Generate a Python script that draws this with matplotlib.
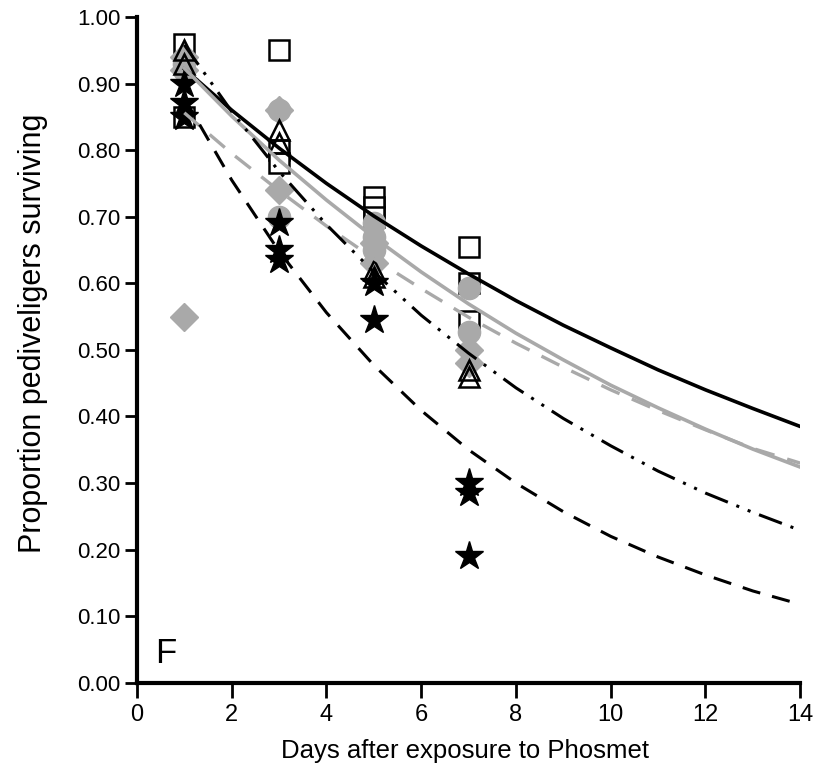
import matplotlib
matplotlib.use("Agg")
import matplotlib.pyplot as plt

plt.rcParams['font.family'] = ['Liberation Sans', 'DejaVu Sans']

# ---- data ----
curve_days = [1, 2, 3, 4, 5, 6, 7, 8, 9, 10, 11, 12, 13, 14]
fit_black_solid = [0.922, 0.860, 0.803, 0.750, 0.701, 0.656, 0.614, 0.574, 0.537, 0.503, 0.470, 0.440, 0.412, 0.385]
fit_gray_solid = [0.923, 0.851, 0.785, 0.725, 0.669, 0.617, 0.569, 0.525, 0.485, 0.447, 0.413, 0.381, 0.351, 0.324]
fit_gray_dashed = [0.856, 0.795, 0.739, 0.686, 0.637, 0.592, 0.549, 0.510, 0.474, 0.440, 0.409, 0.380, 0.352, 0.330]
fit_dashdot = [0.958, 0.858, 0.768, 0.688, 0.617, 0.552, 0.495, 0.443, 0.397, 0.356, 0.318, 0.285, 0.256, 0.229]
fit_black_dashed = [0.878, 0.755, 0.648, 0.556, 0.477, 0.409, 0.350, 0.300, 0.257, 0.220, 0.189, 0.162, 0.138, 0.118]

sq_x = [1, 1, 3, 3, 3, 5, 5, 5, 7, 7, 7]
sq_y = [0.96, 0.85, 0.95, 0.80, 0.78, 0.73, 0.715, 0.70, 0.655, 0.60, 0.544]

circ_x = [1, 1, 3, 3, 5, 5, 5, 7, 7]
circ_y = [0.93, 0.92, 0.86, 0.70, 0.69, 0.67, 0.65, 0.593, 0.527]

diam_x = [1, 1, 1, 3, 3, 5, 5, 7, 7]
diam_y = [0.94, 0.92, 0.55, 0.86, 0.74, 0.66, 0.63, 0.50, 0.48]

tri_x = [1, 1, 3, 3, 5, 5, 7, 7]
tri_y = [0.95, 0.93, 0.83, 0.81, 0.62, 0.61, 0.47, 0.46]

star_x = [1, 1, 1, 3, 3, 3, 5, 5, 7, 7, 7]
star_y = [0.90, 0.87, 0.85, 0.69, 0.65, 0.635, 0.60, 0.545, 0.30, 0.285, 0.19]

xticks = [0, 2, 4, 6, 8, 10, 12, 14]
yticks = [0.0, 0.1, 0.2, 0.3, 0.4, 0.5, 0.6, 0.7, 0.8, 0.9, 1.0]

GRAY = '#a9a9a9'

fig = plt.figure(figsize=(8.25, 7.69), dpi=100)
ax = fig.add_axes([0.166, 0.112, 0.804, 0.866])

ax.plot(sq_x, sq_y, linestyle='none', marker='s', markersize=14.5, markerfacecolor='white',
        markeredgecolor='black', markeredgewidth=1.8, zorder=3)
ax.plot(circ_x, circ_y, linestyle='none', marker='o', markersize=16, markerfacecolor=GRAY,
        markeredgecolor=GRAY, zorder=3.2)
ax.plot(diam_x, diam_y, linestyle='none', marker='D', markersize=14, markerfacecolor=GRAY,
        markeredgecolor=GRAY, zorder=3.3)
ax.plot(tri_x, tri_y, linestyle='none', marker='^', markersize=14, markerfacecolor='none',
        markeredgecolor='black', markeredgewidth=1.8, zorder=3.4)
ax.plot(star_x, star_y, linestyle='none', marker='*', markersize=21, markerfacecolor='black',
        markeredgecolor='black', zorder=3.5)

ax.plot(curve_days, fit_black_solid, color='black', lw=2.6, zorder=4)
ax.plot(curve_days, fit_gray_solid, color=GRAY, lw=2.6, zorder=4)
ax.plot(curve_days, fit_gray_dashed, color=GRAY, lw=2.4, dashes=(6, 4), zorder=4)
ax.plot(curve_days, fit_dashdot, color='black', lw=2.2, dashes=(8, 3, 1, 3, 1, 3), zorder=4)
ax.plot(curve_days, fit_black_dashed, color='black', lw=2.2, dashes=(6, 4), zorder=4)

ax.set_xlim(0, 14)
ax.set_ylim(0, 1.0)
ax.set_xticks(xticks)
ax.set_yticks(yticks)
ax.set_yticklabels([f"{v:.2f}" for v in yticks])
for s in ['top', 'right']:
    ax.spines[s].set_visible(False)
for s in ['left', 'bottom']:
    ax.spines[s].set_linewidth(3)
ax.tick_params(axis='y', direction='out', length=9, width=2, labelsize=16, pad=3)
ax.tick_params(axis='x', direction='out', length=11, width=2, labelsize=17, pad=4)

ax.set_xlabel('Days after exposure to Phosmet', fontsize=18.5)
ax.xaxis.set_label_coords(0.495, -0.085)
ax.set_ylabel('Proportion pediveligers surviving', fontsize=22)
ax.yaxis.set_label_coords(-0.134, 0.525)
ax.text(0.38, 0.044, 'F', fontsize=25, ha='left', va='center')

fig.savefig('out.png', dpi=100)
